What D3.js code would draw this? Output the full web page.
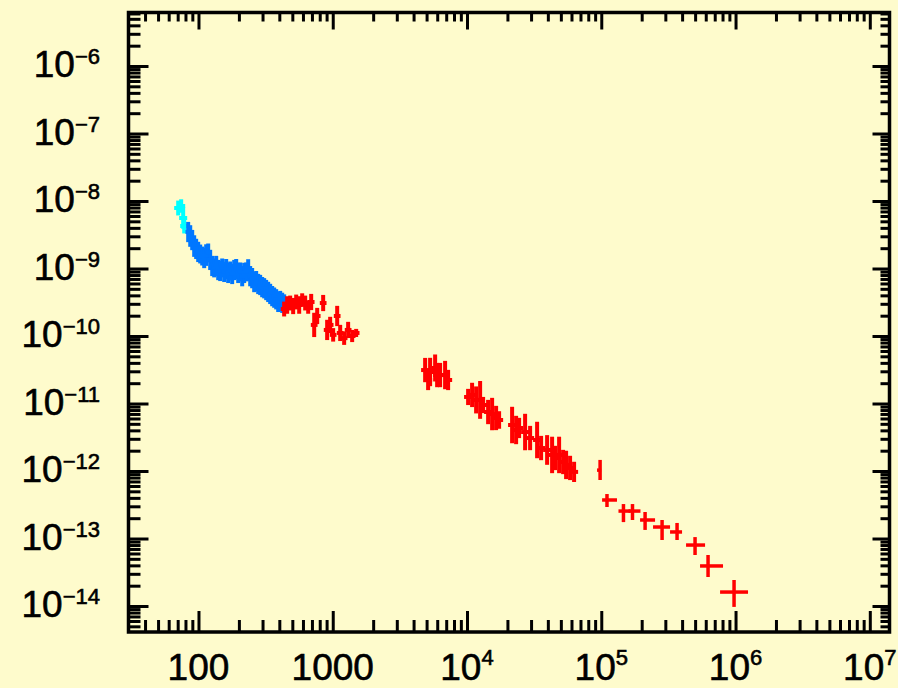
<!DOCTYPE html>
<html>
<head>
<meta charset="utf-8">
<script src="https://cdn.jsdelivr.net/npm/d3@7"></script>
<style>
  html, body { margin: 0; padding: 0; background: #fefbcc; }
  svg { display: block; }
  text { font-family: "Liberation Sans", Arial, Helvetica, sans-serif; fill: #000; stroke: #000; stroke-width: 0.6px; }
</style>
</head>
<body>
<svg id="chart" width="898" height="688"></svg>
<script>
// Energy (x) vs. flux (y) spectrum, several instruments.
// Dense series rows: [energy, flux, flux error in dex]
const cyanPoints = [
  [70.6, 7.87e-9, 0.11], [74.3, 8.43e-9, 0.10], [76.9, 5.6e-9, 0.16], [78.3, 4.26e-9, 0.11]
];
const bluePoints = [
  [83.8, 3.47e-9, 0.15], [86.8, 3.03e-9, 0.16], [89.8, 2.64e-9, 0.15], [92.9, 2.15e-9, 0.16],
  [96.1, 1.95e-9, 0.15], [99.5, 1.76e-9, 0.15], [103.0, 1.64e-9, 0.14], [106.6, 1.53e-9, 0.14],
  [110.3, 1.43e-9, 0.15], [114.1, 1.58e-9, 0.16], [118.1, 1.70e-9, 0.14], [122.2, 1.34e-9, 0.15],
  [126.5, 1.09e-9, 0.15], [130.9, 1.02e-9, 0.14], [135.5, 1.09e-9, 0.15], [140.2, 9.5e-10, 0.15],
  [145.1, 9.2e-10, 0.15], [150.2, 1.02e-9, 0.14], [155.4, 8.9e-10, 0.15], [160.8, 9.8e-10, 0.15],
  [166.4, 8.6e-10, 0.15], [172.2, 9.2e-10, 0.14], [178.2, 8.3e-10, 0.15], [184.5, 9.5e-10, 0.15],
  [190.9, 9.8e-10, 0.15], [197.6, 8.6e-10, 0.15], [204.4, 8.9e-10, 0.14], [211.6, 7.7e-10, 0.15],
  [218.9, 8.6e-10, 0.15], [226.6, 8.9e-10, 0.14], [234.5, 9.5e-10, 0.16], [242.7, 7.7e-10, 0.15],
  [251.1, 7.2e-10, 0.15], [259.9, 6.3e-10, 0.15], [268.9, 6.5e-10, 0.15], [278.3, 5.9e-10, 0.15],
  [288.0, 5.7e-10, 0.15], [298.1, 5.3e-10, 0.15], [308.5, 5.1e-10, 0.15], [319.3, 4.8e-10, 0.15],
  [330.4, 4.5e-10, 0.15], [342.0, 4.2e-10, 0.15], [353.9, 3.9e-10, 0.15], [366.3, 3.7e-10, 0.15],
  [379.1, 3.5e-10, 0.15], [392.3, 3.2e-10, 0.15], [406.0, 3.3e-10, 0.15], [420.2, 3.1e-10, 0.15],
  [434.8, 3.0e-10, 0.14]
];
const redLowPoints = [
  [434.6, 2.51e-10, 0.11], [457.6, 2.88e-10, 0.13], [481.8, 3.08e-10, 0.11], [507.2, 2.78e-10, 0.12],
  [534.1, 3.19e-10, 0.11], [562.3, 2.88e-10, 0.13], [592.0, 3.41e-10, 0.10], [623.3, 3.08e-10, 0.11],
  [656.2, 2.69e-10, 0.10], [690.9, 3.19e-10, 0.12], [727.4, 1.46e-10, 0.18], [765.8, 1.98e-10, 0.12],
  [848.5, 3.08e-10, 0.12], [908.4, 1.23e-10, 0.15], [956.5, 1.46e-10, 0.12], [1007, 1.04e-10, 0.10],
  [1079, 1.98e-10, 0.15], [1136, 1.11e-10, 0.12], [1216, 9.3e-11, 0.10], [1302, 1.23e-10, 0.12],
  [1395, 1.0e-10, 0.09], [1494, 1.11e-10, 0.06]
];
const redMidPoints = [
  [4876, 3.13e-11, 0.18], [5132, 2.23e-11, 0.15], [5311, 2.93e-11, 0.21], [5788, 3.36e-11, 0.20],
  [5990, 2.64e-11, 0.18], [6305, 2.64e-11, 0.18], [6868, 2.64e-11, 0.21], [7232, 2.23e-11, 0.15],
  [1.019e4, 1.25e-11, 0.12], [1.091e4, 1.34e-11, 0.18], [1.169e4, 1.13e-11, 0.20], [1.252e4, 1.13e-11, 0.28],
  [1.318e4, 9.5e-12, 0.12],
  [1.436e4, 7.48e-12, 0.18], [1.538e4, 6.98e-12, 0.24], [1.647e4, 6.1e-12, 0.18], [1.734e4, 5.7e-12, 0.13],
  [2.167e4, 4.8e-12, 0.27], [2.321e4, 4.05e-12, 0.21], [2.443e4, 4.34e-12, 0.15],
  [2.708e4, 3.78e-12, 0.27], [2.951e4, 3.08e-12, 0.18],
  [3.327e4, 2.88e-12, 0.27], [3.563e4, 2.19e-12, 0.18],
  [3.95e4, 2.05e-12, 0.22], [4.303e4, 1.73e-12, 0.27], [4.53e4, 1.56e-12, 0.18],
  [4.852e4, 1.73e-12, 0.27], [5.196e4, 1.36e-12, 0.18],
  [5.47e4, 1.23e-12, 0.21], [5.857e4, 1.11e-12, 0.18], [6.274e4, 9.7e-13, 0.15]
];
// Energy half-width of each dense series bin, in dex
const cyanBinDex = 0.03;
const blueBinDex = 0.02;
const redLowBinDex = 0.025;
const redMidBinDex = 0.03;

// Binned high-energy points: [energy, eMin, eMax, flux, fMin, fMax]
const redHighPoints = [
  [9.8e4, 9.3e4, 9.98e4, 1.03e-12, 7.36e-13, 1.46e-12],
  [1.103e5, 1.014e5, 1.309e5, 3.72e-13, 2.93e-13, 4.56e-13],
  [1.463e5, 1.343e5, 1.65e5, 2.55e-13, 1.75e-13, 3.24e-13],
  [1.708e5, 1.594e5, 1.958e5, 2.55e-13, 1.88e-13, 3.24e-13],
  [2.12e5, 1.945e5, 2.515e5, 1.88e-13, 1.34e-13, 2.47e-13],
  [2.837e5, 2.43e5, 3.253e5, 1.48e-13, 9.5e-14, 1.88e-13],
  [3.668e5, 3.253e5, 3.996e5, 1.25e-13, 9.5e-14, 1.70e-13],
  [4.994e5, 4.28e5, 5.93e5, 8.0e-14, 5.7e-14, 1.05e-13],
  [6.241e5, 5.44e5, 8.07e5, 3.92e-14, 2.69e-14, 5.7e-14],
  [9.748e5, 7.67e5, 1.239e6, 1.61e-14, 9.7e-15, 2.43e-14]
];

// Axis tick labels
const xTickLabels = [
  { v: 1e2, base: "100", exp: "" },
  { v: 1e3, base: "1000", exp: "" },
  { v: 1e4, base: "10", exp: "4" },
  { v: 1e5, base: "10", exp: "5" },
  { v: 1e6, base: "10", exp: "6" },
  { v: 1e7, base: "10", exp: "7" }
];
const yTickExponents = [-6, -7, -8, -9, -10, -11, -12, -13, -14];

const svg = d3.select("#chart");
const W = 898, H = 688;
const box = { left: 128.5, right: 889.5, top: 12.5, bottom: 632 };

svg.append("rect").attr("width", W).attr("height", H).attr("fill", "#fefbcc");

const x = d3.scaleLog()
  .domain([Math.pow(10, 1.4788), Math.pow(10, 7.1467)])
  .range([box.left, box.right]);
const y = d3.scaleLog()
  .domain([Math.pow(10, -14.385), Math.pow(10, -5.2074)])
  .range([box.bottom, box.top]);

// Convert each series to error-bar segments
function denseRows(rows, binDex) {
  return rows.map(([e, f, dex]) => ({
    e, f,
    e0: e / Math.pow(10, binDex), e1: e * Math.pow(10, binDex),
    f0: f / Math.pow(10, dex), f1: f * Math.pow(10, dex)
  }));
}
function binnedRows(rows) {
  return rows.map(([e, e0, e1, f, f0, f1]) => ({ e, e0, e1, f, f0, f1 }));
}

const series = [
  { color: "#00ffff", width: 4, data: denseRows(cyanPoints, cyanBinDex) },
  { color: "#0077ff", width: 4, data: denseRows(bluePoints, blueBinDex) },
  { color: "#ff0000", width: 4, data: denseRows(redLowPoints, redLowBinDex) },
  { color: "#ff0000", width: 4, data: denseRows(redMidPoints, redMidBinDex) },
  { color: "#ff0000", width: 3.5, data: binnedRows(redHighPoints) }
];

const plot = svg.append("g");
series.forEach(s => {
  const g = plot.append("g").attr("stroke", s.color).attr("stroke-width", s.width);
  g.selectAll("line.v").data(s.data).join("line").attr("class", "v")
    .attr("x1", d => x(d.e)).attr("x2", d => x(d.e))
    .attr("y1", d => y(d.f0)).attr("y2", d => y(d.f1));
  g.selectAll("line.h").data(s.data).join("line").attr("class", "h")
    .attr("x1", d => x(d.e0)).attr("x2", d => x(d.e1))
    .attr("y1", d => y(d.f)).attr("y2", d => y(d.f));
});

// Tick values: decades and 2..9 sub-decades
function decades(lo, hi) { return d3.range(lo, hi + 1).map(n => Math.pow(10, n)); }
function minors(lo, hi, dom) {
  const out = [];
  for (let n = lo; n <= hi; n++) for (let k = 2; k <= 9; k++) {
    const v = k * Math.pow(10, n);
    if (v > dom[0] && v < dom[1]) out.push(v);
  }
  return out;
}
const xMajor = decades(2, 7);
const xMinor = minors(1, 7, x.domain());
const yMajor = decades(-14, -6);
const yMinor = minors(-15, -6, y.domain());

function tickAxis(gen, scale, values, size, transform) {
  const a = gen(scale).tickValues(values).tickSizeInner(size).tickSizeOuter(0).tickFormat("");
  const g = svg.append("g").attr("transform", transform).call(a);
  g.select(".domain").remove();
  g.selectAll(".tick line").attr("stroke", "#000").attr("stroke-width", 3);
  return g;
}
// bottom (ticks pointing up), top (down), left (right), right (left)
tickAxis(d3.axisTop, x, xMinor, 12, `translate(0,${box.bottom})`);
tickAxis(d3.axisTop, x, xMajor, 21, `translate(0,${box.bottom})`);
tickAxis(d3.axisBottom, x, xMinor, 9, `translate(0,${box.top})`);
tickAxis(d3.axisBottom, x, xMajor, 17, `translate(0,${box.top})`);
tickAxis(d3.axisRight, y, yMinor, 12, `translate(${box.left},0)`);
tickAxis(d3.axisRight, y, yMajor, 20, `translate(${box.left},0)`);
tickAxis(d3.axisLeft, y, yMinor, 9, `translate(${box.right},0)`);
tickAxis(d3.axisLeft, y, yMajor, 17, `translate(${box.right},0)`);

// Frame
svg.append("rect")
  .attr("x", box.left).attr("y", box.top)
  .attr("width", box.right - box.left).attr("height", box.bottom - box.top)
  .attr("fill", "none").attr("stroke", "#000").attr("stroke-width", 3.5);

// Y labels: 10^n
const yl = svg.append("g");
yTickExponents.forEach(n => {
  const t = yl.append("text")
    .attr("x", 100).attr("y", y(Math.pow(10, n)) + 11)
    .attr("text-anchor", "end").attr("font-size", 37);
  t.append("tspan").text("10");
  t.append("tspan").attr("font-size", 22).attr("dy", -13).text("\u2212" + Math.abs(n));
});

// X labels
const xl = svg.append("g");
xTickLabels.forEach(d => {
  const t = xl.append("text")
    .attr("x", x(d.v)).attr("y", 680)
    .attr("text-anchor", "middle").attr("font-size", 37);
  t.append("tspan").text(d.base);
  if (d.exp) t.append("tspan").attr("font-size", 22).attr("dy", -15).text(d.exp);
});
</script>
</body>
</html>
